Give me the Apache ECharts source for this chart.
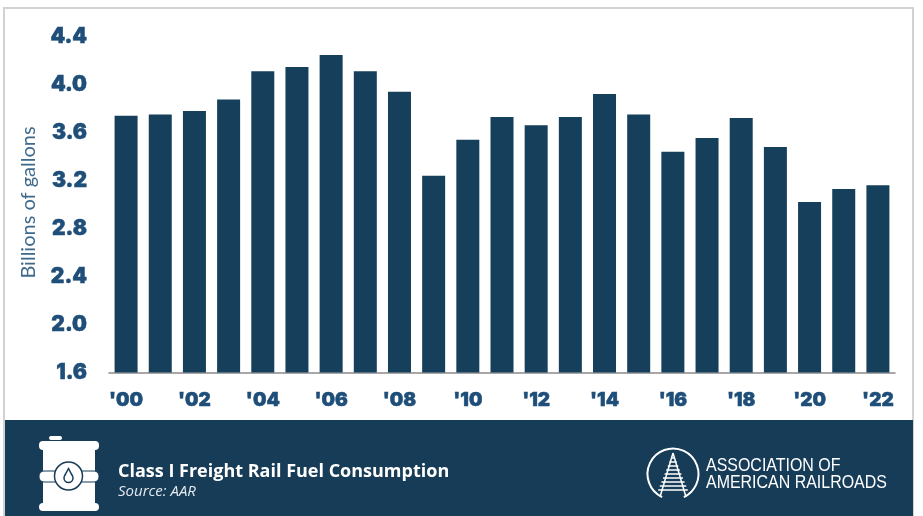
<!DOCTYPE html>
<html>
<head>
<meta charset="utf-8">
<title>Class I Freight Rail Fuel Consumption</title>
<script src="https://cdn.jsdelivr.net/npm/echarts@6/dist/echarts.min.js"></script>
<style>
  html, body { margin: 0; padding: 0; background: #fff; }
  #chart { width: 923px; height: 516px; }
</style>
</head>
<body>
<div id="chart"></div>
<script>
const years = ["'00", "'01", "'02", "'03", "'04", "'05", "'06", "'07", "'08", "'09", "'10", "'11",
  "'12", "'13", "'14", "'15", "'16", "'17", "'18", "'19", "'20", "'21", "'22"];
const gallons = [3.74, 3.75, 3.78, 3.875, 4.11, 4.145, 4.245, 4.11, 3.94, 3.24, 3.54, 3.73,
  3.66, 3.73, 3.92, 3.75, 3.44, 3.555, 3.72, 3.48, 3.02, 3.13, 3.16];

const navy = '#173c58';
const white = '#ffffff';

// barrel icon in the footer, white shapes with navy details
const barrel = [
  { type: 'rect', z: 3, shape: { x: 49, y: 436, width: 13, height: 4, r: 2 }, style: { fill: white } },
  { type: 'rect', z: 3, shape: { x: 39, y: 441, width: 60, height: 9, r: 4 }, style: { fill: white } },
  { type: 'rect', z: 3, shape: { x: 43, y: 450, width: 52, height: 53 }, style: { fill: white } },
  { type: 'rect', z: 3, shape: { x: 39, y: 503, width: 60, height: 8, r: 4 }, style: { fill: white } },
  { type: 'rect', z: 4, shape: { x: 39, y: 471, width: 60, height: 11, r: 5 }, style: { fill: white, stroke: navy, lineWidth: 1 } },
  { type: 'circle', z: 5, shape: { cx: 68.5, cy: 476, r: 14 }, style: { fill: white, stroke: navy, lineWidth: 1.5 } },
  { type: 'circle', z: 6, shape: { cx: 68.5, cy: 478, r: 4.5 }, style: { fill: white, stroke: navy, lineWidth: 1.5 } },
  { type: 'polyline', z: 6, shape: { points: [[64.6, 475.8], [68.5, 468.5], [72.4, 475.8]] }, style: { fill: white, stroke: navy, lineWidth: 1.5 } }
];

// railroad logo: open circle with a track running into it
const logo = [
  { type: 'arc', z: 3, shape: { cx: 673, cy: 474, r: 25.5, startAngle: Math.PI * 0.64, endAngle: Math.PI * 0.36 }, style: { fill: null, stroke: white, lineWidth: 2 } },
  { type: 'line', z: 3, shape: { x1: 673, y1: 453, x2: 660, y2: 497 }, style: { stroke: white, lineWidth: 1.5 } },
  { type: 'line', z: 3, shape: { x1: 673, y1: 453, x2: 686, y2: 497 }, style: { stroke: white, lineWidth: 1.5 } }
];
[458, 462, 466, 470, 474, 478, 482, 486, 490].forEach((y, i) => {
  const half = 2 + i * 1.6;
  logo.push({ type: 'line', z: 3, shape: { x1: 673 - half, y1: y, x2: 673 + half, y2: y }, style: { stroke: white, lineWidth: 1.5 } });
});

const chart = echarts.init(document.getElementById('chart'));
chart.setOption({
  animation: false,
  grid: { left: 109, right: 28, top: 36.5, bottom: 143.5 },
  xAxis: {
    type: 'category',
    data: years,
    axisTick: { show: false },
    axisLine: { lineStyle: { color: '#8a8a8a', width: 1.5 } },
    axisLabel: {
      interval: 1,
      margin: 18,
      color: '#1f4e79',
      fontFamily: 'Inter',
      fontWeight: 900,
      fontSize: 19,
      textBorderColor: '#1f4e79',
      textBorderWidth: 0.5
    }
  },
  yAxis: {
    type: 'value',
    min: 1.6,
    max: 4.4,
    interval: 0.4,
    name: 'Billions of gallons',
    nameLocation: 'middle',
    nameGap: 70,
    nameRotate: 90,
    nameTextStyle: { color: '#3f6a8c', fontFamily: 'Lato', fontWeight: 400, fontSize: 20, padding: [0, 0, 0, 4] },
    splitLine: { show: false },
    axisLine: { show: false },
    axisTick: { show: false },
    axisLabel: {
      margin: 22,
      color: '#1f4e79',
      fontFamily: 'Inter',
      fontWeight: 900,
      fontSize: 21,
      padding: [2, 0, 0, 0],
      textBorderColor: '#1f4e79',
      textBorderWidth: 0.5,
      formatter: v => v.toFixed(1)
    }
  },
  series: [{
    type: 'bar',
    data: gallons,
    barWidth: 23,
    itemStyle: { color: '#153f5a' }
  }],
  graphic: [
    { type: 'rect', z: 0, shape: { x: 4, y: 8, width: 909, height: 510 }, style: { fill: null, stroke: '#d2d2d2', lineWidth: 2 } },
    { type: 'rect', z: 1, shape: { x: 5, y: 420, width: 908, height: 96 }, style: { fill: navy } },
    { type: 'group', children: barrel },
    { type: 'group', children: logo },
    { type: 'text', z: 3, style: { x: 118, y: 472, text: 'Class I Freight Rail Fuel Consumption', fill: white, font: '700 18px "Open Sans"', verticalAlign: 'middle' } },
    { type: 'text', z: 3, style: { x: 118, y: 492, text: 'Source: AAR', fill: '#e4e9ee', font: 'italic 15px "Open Sans"', verticalAlign: 'middle' } },
    { type: 'text', z: 3, x: 706, y: 466, scaleX: 0.84, style: { text: 'ASSOCIATION OF', fill: white, font: '19px "Liberation Sans"', verticalAlign: 'middle' } },
    { type: 'text', z: 3, x: 706, y: 483, scaleX: 0.84, style: { text: 'AMERICAN RAILROADS', fill: white, font: '19px "Liberation Sans"', verticalAlign: 'middle' } }
  ]
});
</script>
</body>
</html>
